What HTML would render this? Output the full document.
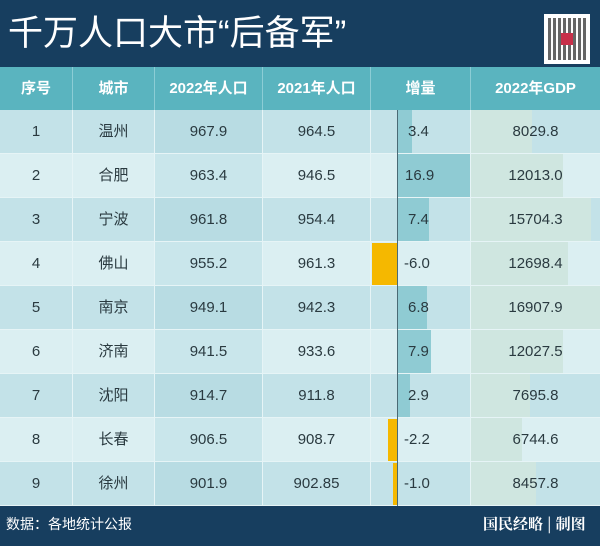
<!DOCTYPE html>
<html><head><meta charset="utf-8"><style>
*{margin:0;padding:0;box-sizing:border-box}
body{width:600px;height:546px;overflow:hidden;background:#c3e2e8;font-family:"Liberation Sans","Noto Sans CJK SC",sans-serif;position:relative}
.a{position:absolute}
.hd{left:0;top:0;width:600px;height:67px;background:#173e5f}
.title{left:8px;top:9px;color:#fff;font-size:35px;font-family:"Liberation Sans","Noto Sans CJK SC",sans-serif;font-weight:normal;line-height:50px;white-space:nowrap}
.th{top:67px;height:43px;background:#5ab4bf;color:#fff;font-size:15px;text-align:center;line-height:43px;font-weight:bold;border-right:1px solid #8ccdd5}
.cell{height:44px;line-height:44px;text-align:center;font-size:15px;color:#2a3a40;border-right:1px solid #e6f4f6;border-bottom:1px solid #e6f4f6}
.ft{left:0;top:506px;width:600px;height:40px;background:#173e5f}
</style></head><body>
<div class="a hd"></div>
<div class="a title">千万人口大市“后备军”</div>
<div class="a" style="left:544px;top:14px;width:46px;height:50px;background:#fff;padding:4px">
<div style="width:38px;height:42px;background:repeating-linear-gradient(90deg,#333 0 3px,#fff 3px 5px),#333;opacity:.75"></div>
<div class="a" style="left:17px;top:19px;width:12px;height:12px;background:#c8304a"></div>
</div>
<div class="a th" style="left:0;width:73px">序号</div>
<div class="a th" style="left:73px;width:82px">城市</div>
<div class="a th" style="left:155px;width:108px">2022年人口</div>
<div class="a th" style="left:263px;width:108px">2021年人口</div>
<div class="a th" style="left:371px;width:100px">增量</div>
<div class="a th" style="left:471px;width:129px;border-right:none">2022年GDP</div>
<div id="rows"></div>
<div class="a" style="left:397px;top:110px;width:1px;height:396px;background:#4a6a75"></div>
<div class="a ft"></div>
<div class="a" style="left:6px;top:514px;color:#fff;font-size:14px">数据：各地统计公报</div>
<div class="a" style="left:483px;top:513px;color:#fff;font-size:15px;font-weight:bold;font-family:'Noto Serif CJK SC',serif">国民经略 | 制图</div>
<script>
var d=[[1,"温州","967.9","964.5",3.4,8029.8],[2,"合肥","963.4","946.5",16.9,12013.0],[3,"宁波","961.8","954.4",7.4,15704.3],[4,"佛山","955.2","961.3",-6.0,12698.4],[5,"南京","949.1","942.3",6.8,16907.9],[6,"济南","941.5","933.6",7.9,12027.5],[7,"沈阳","914.7","911.8",2.9,7695.8],[8,"长春","906.5","908.7",-2.2,6744.6],[9,"徐州","901.9","902.85",-1.0,8457.8]];
var h="";
d.forEach(function(r,i){var y=110+i*44;var bg=i%2?"#dbeff2":"#c3e2e8";var bg2=i%2?"#c9e6eb":"#b8dce3";
h+='<div class="a" style="left:0;top:'+y+'px;width:600px;height:44px;background:'+bg+'"></div>';
h+='<div class="a" style="left:155px;top:'+y+'px;width:108px;height:44px;background:'+bg2+'"></div>';
var gw=r[5]/16907.9*129;
h+='<div class="a" style="left:471px;top:'+y+'px;width:'+gw+'px;height:43px;background:#cfe6e0"></div>';
if(r[4]>0){h+='<div class="a" style="left:397px;top:'+y+'px;width:'+(r[4]*4.35)+'px;height:43px;background:#8fcbd3"></div>';}
else{var w=-r[4]*4.2;h+='<div class="a" style="left:'+(397-w)+'px;top:'+(y+1)+'px;width:'+w+'px;height:42px;background:#f5b800"></div>';}
var c=[[0,73,r[0]],[73,82,r[1]],[155,108,r[2]],[263,108,r[3]]];
c.forEach(function(k){h+='<div class="a cell" style="left:'+k[0]+'px;top:'+y+'px;width:'+k[1]+'px">'+k[2]+'</div>';});
h+='<div class="a cell" style="left:371px;top:'+y+'px;width:100px;text-align:left;padding-left:'+(r[4]<0?33:(r[4]>=10?34:37))+'px">'+r[4].toFixed(1)+'</div>';
h+='<div class="a cell" style="left:471px;top:'+y+'px;width:129px;border-right:none">'+r[5].toFixed(1)+'</div>';
});
document.getElementById("rows").innerHTML=h;
</script>
</body></html>
